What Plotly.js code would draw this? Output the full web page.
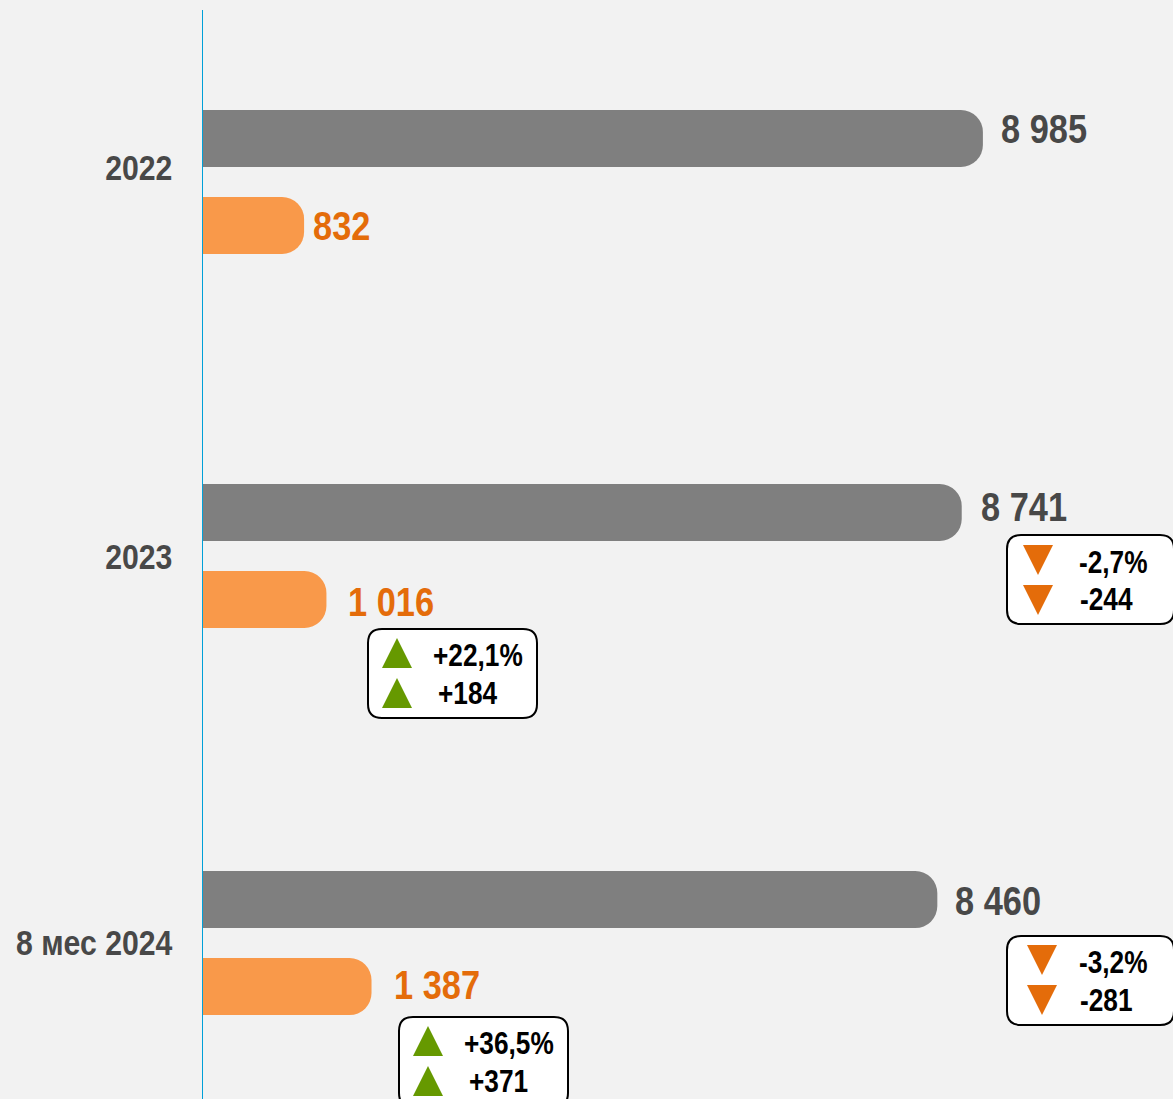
<!DOCTYPE html>
<html>
<head>
<meta charset="utf-8">
<script src="https://cdn.plot.ly/plotly-3.0.1.min.js"></script>
<style>html,body{margin:0;padding:0;background:#F2F2F2;overflow:hidden}#c{width:1173px;height:1099px}</style>
</head>
<body>
<div id="c"></div>
<script>
const categories = ["2022", "2023", "8 мес 2024"];
const totalValues = [8985, 8741, 8460];
const partValues = [832, 1016, 1387];
const totalPct = [null, "-2,7%", "-3,2%"];
const totalAbs = [null, "-244", "-281"];
const partPct = [null, "+22,1%", "+36,5%"];
const partAbs = [null, "+184", "+371"];

const W = 1173, H = 1099, L = 203, T = 10;
const FONT = '"Liberation Sans",Arial,sans-serif';
const groupPos = [0, 1, 2.035];
const tickPos = [-0.04, 1.002, 2.032];
const fmt = v => String(v).replace(/\B(?=(\d{3})+$)/g, " ");
const px = x => (x - L) / (W - L);
const py = y => 1 - (y - T) / (H - T);

const traces = [
  {type:"bar", orientation:"h", name:"total", x:totalValues, y:groupPos, xaxis:"x", yaxis:"y",
   width:57/374, offset:-72/374, marker:{color:"#7F7F7F", line:{width:0}}, hoverinfo:"x+y"},
  {type:"bar", orientation:"h", name:"part", x:partValues, y:groupPos, xaxis:"x2", yaxis:"y",
   width:57/374, offset:15/374, marker:{color:"#F9994A", line:{width:0}}, hoverinfo:"x+y"}
];

function label(text, x, y, size, color) {
  return {xref:"paper", yref:"paper", x:px(x - 1), y:py(y - 0.7), text:text, showarrow:false,
    xanchor:"left", yanchor:"middle", borderpad:0,
    font:{family:FONT, size:size, color:color, weight:700}};
}
function box(x0, y0, x1, y1) {
  const r = 14, X0=px(x0), X1=px(x1), Y0=py(y0), Y1=py(y1), rx=r/(W-L), ry=r/(H-T);
  return {type:"path", xref:"paper", yref:"paper", fillcolor:"#FFFFFF", line:{color:"#000000", width:2},
    path:`M${X0+rx},${Y0} L${X1-rx},${Y0} Q${X1},${Y0} ${X1},${Y0-ry} L${X1},${Y1+ry} Q${X1},${Y1} ${X1-rx},${Y1} L${X0+rx},${Y1} Q${X0},${Y1} ${X0},${Y1+ry} L${X0},${Y0-ry} Q${X0},${Y0} ${X0+rx},${Y0} Z`};
}
function tri(x, y, up) {
  const c = up ? "#669900" : "#E46C0A";
  const p = up
    ? `M${px(x)},${py(y+30)} L${px(x+30)},${py(y+30)} L${px(x+15)},${py(y)} Z`
    : `M${px(x)},${py(y)} L${px(x+30)},${py(y)} L${px(x+15)},${py(y+30)} Z`;
  return {type:"path", xref:"paper", yref:"paper", fillcolor:c, line:{width:0}, path:p};
}

const DELTA = 32, VAL = 40;
const annotations = [
  label(fmt(totalValues[0]), 1001, 130, VAL, "#484848"),
  label(fmt(partValues[0]), 313, 227, VAL, "#E46C0A"),
  label(fmt(totalValues[1]), 981, 508, VAL, "#484848"),
  label(fmt(partValues[1]), 348, 603, VAL, "#E46C0A"),
  label(fmt(totalValues[2]), 955, 902, VAL, "#484848"),
  label(fmt(partValues[2]), 394, 986, VAL, "#E46C0A"),
  label(totalPct[1], 1079, 563, DELTA, "#000000"),
  label(totalAbs[1], 1080, 600, DELTA, "#000000"),
  label(partPct[1], 433, 656, DELTA, "#000000"),
  label(partAbs[1], 438, 694, DELTA, "#000000"),
  label(totalPct[2], 1079, 963, DELTA, "#000000"),
  label(totalAbs[2], 1080, 1001, DELTA, "#000000"),
  label(partPct[2], 464, 1044, DELTA, "#000000"),
  label(partAbs[2], 469, 1082, DELTA, "#000000")
];
const shapes = [
  box(1007, 535, 1174, 624), box(1007, 936, 1174, 1025),
  box(368, 629, 537, 718), box(399, 1017, 568, 1107),
  tri(1023, 545, false), tri(1023, 585, false),
  tri(1027, 945, false), tri(1027, 985, false),
  tri(382, 638, true), tri(382, 678, true),
  tri(413, 1026, true), tri(413, 1066, true)
];

const layout = {
  width:W, height:H, margin:{l:L, r:0, t:T, b:0, pad:0},
  paper_bgcolor:"#F2F2F2", plot_bgcolor:"#F2F2F2", showlegend:false, barcornerradius:22,
  xaxis:{range:[0, (W-L)/0.0868], visible:false, fixedrange:true},
  xaxis2:{range:[0, (W-L)/0.1215], visible:false, overlaying:"x", fixedrange:true},
  yaxis:{range:[(H-182)/374, (T-182)/374], tickmode:"array", tickvals:tickPos, ticktext:categories,
    showline:true, linecolor:"#00A0D8", linewidth:1.4, showgrid:false, zeroline:false,
    ticks:"outside", ticklen:22, tickcolor:"rgba(0,0,0,0)", tickwidth:1, automargin:false,
    tickfont:{family:FONT, size:36, color:"#484848", weight:700}},
  annotations, shapes
};
Plotly.newPlot("c", traces, layout, {displayModeBar:false, staticPlot:true}).then(gd => {
  // The source face is a narrow bold; no condensed face is installed, so the real text is condensed.
  gd.querySelectorAll(".annotation-text").forEach(t => {
    const small = parseFloat(getComputedStyle(t).fontSize) < 36;
    t.style.transformBox = "fill-box";
    t.style.transformOrigin = "left center";
    t.style.transform = `scaleX(${small ? 0.82 : 0.86})`;
  });
  gd.querySelectorAll(".ytick text").forEach(t => {
    const x = parseFloat(t.getAttribute("x"));
    const base = t.getAttribute("transform") || "";
    t.setAttribute("transform", `${base} translate(${x},0) scale(0.84,1) translate(${-x},0)`);
  });
});
</script>
</body>
</html>
